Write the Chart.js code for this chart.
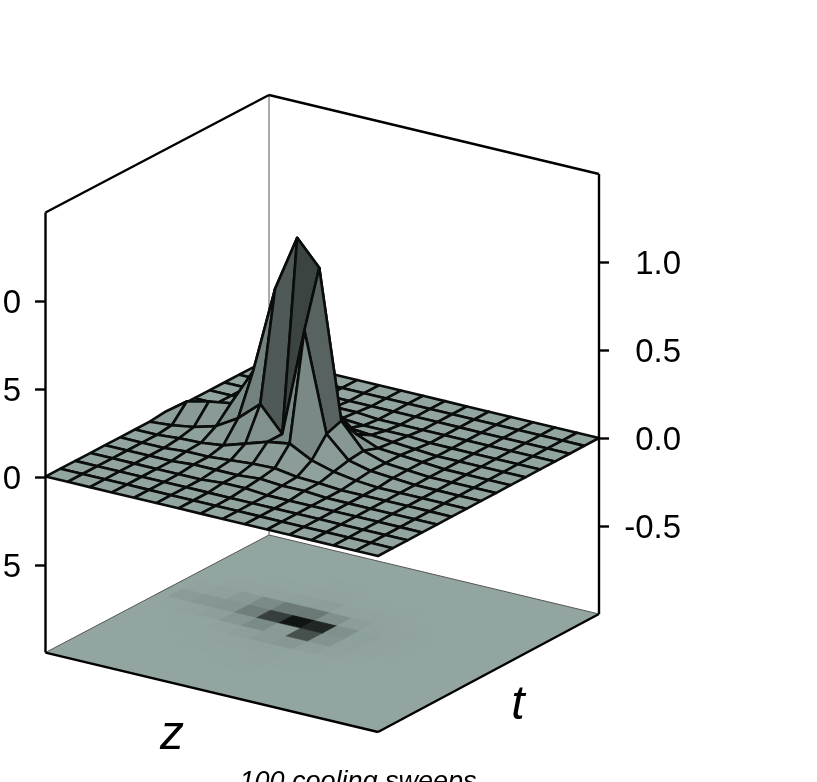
<!DOCTYPE html>
<html>
<head>
<meta charset="utf-8">
<style>
  body { margin: 0; background: #fff; overflow: hidden; }
  canvas { display: block; }
</style>
<script src="https://cdn.jsdelivr.net/npm/chart.js@4"></script>
</head>
<body>
<canvas id="myChart" width="817" height="782"></canvas>
<script>
// Surface heights, one row per t step (front to back), one value per z step
const heights = [
  [0,    0,    0,    0,    0,    0,    0,    0,    0,    0,    0,    0,    0,    0, 0, 0],
  [0,    0,    0,    0,    0,    0,    0,    0,    0,    0,    0,    0,    0,    0, 0, 0],
  [0,    0,    0,    0,    0,    0,    0,    0,    0,    0,    0,    0,    0,    0, 0, 0],
  [0,    0,    0,    0,    0,    0,    0.01, 0.01, 0,    0,    0,    0,    0,    0, 0, 0],
  [0,    0,    0,    0,    0.01, 0.01, 0.01, 0.02, 0.01, 0.01, 0,    0,    0,    0, 0, 0],
  [0,    0,    0,    0.01, 0.01, 0.02, 0.03, 0.035,0.015,0.01, 0,    0,    0,    0, 0, 0],
  [0,    0,    0.01, 0.015,0.03, 0.07, 0.11, 0.13, 0.065,0.03, 0.01, 0,    0,    0, 0, 0],
  [0,    0.01, 0.03, 0.065,0.14, 0.25, 0.11, 0.73, 0.17, 0.05, 0.02, 0.01, 0,    0, 0, 0],
  [0.01, 0.10, 0.13, 0.15, 0.36, 0.86, 1.18, 1.04, 0.20, 0.06, 0.02, 0.01, 0,    0, 0, 0],
  [0,    0.02, 0.05, 0.12, 0.25, 0.38, 0.40, 0.20, 0.08, 0.03, 0.02, 0.01, 0,    0, 0, 0],
  [0,    0,    0.02, 0.03, 0.04, 0.06, 0.08, 0.04, 0.03, 0.02, 0.01, 0,    0,    0, 0, 0],
  [0,    0,    0,    0.01, 0.01, 0.02, 0.02, 0.01, 0.01, 0.01, 0,    0,    0,    0, 0, 0],
  [0,    0,    0,    0,    0,    0.01, 0.01, 0,    0,    0,    0,    0,    0,    0, 0, 0],
  [0,    0,    0,    0,    0,    0,    0,    0,    0,    0,    0,    0,    0,    0, 0, 0],
  [0,    0,    0,    0,    0,    0,    0,    0,    0,    0,    0,    0,    0,    0, 0, 0],
  [0,    0,    0,    0,    0,    0,    0,    0,    0,    0,    0,    0,    0,    0, 0, 0]
];
const tickValues = [1.0, 0.5, 0.0, -0.5];
const floorLevel = -1.0;
const ceilingLevel = 1.5;
const zLabel = 'z';
const tLabel = 't';
const caption = '100 cooling sweeps';

// Shades of the steep faces round the peak: "z,t": fraction of base
const peakShades = { '5,7': 0.54, '6,7': 0.41, '7,7': 0.60, '7,6': 0.83, '4,7': 0.79, '6,6': 0.84, '5,6': 0.88, '8,7': 0.92 };

const baseColor = [147, 165, 161];
const darkColor = [16, 20, 19];
const lineColor = '#0a0d0c';

// Oblique view: corners of the z-t square (horizontal in x-scale units, depth in right axis units)
const cornerX = { left: 45.5, front: 378, right: 599, back: 269 };
const cornerDepth = { left: -0.219, front: -0.6705, right: 0, back: 0.449 };
const steps = heights.length - 1;

function project(zi, ti, level) {
  const u = zi / steps, v = ti / steps;
  const mix = c => c.left * (1 - u) * (1 - v) + c.front * u * (1 - v) + c.right * u * v + c.back * (1 - u) * v;
  return { x: mix(cornerX), y: mix(cornerDepth) + level };
}

function rgb(c) {
  return `rgb(${c.map(Math.round).join(',')})`;
}

function faceColor(zi, ti) {
  const key = zi + ',' + ti;
  const a = heights[ti][zi], b = heights[ti][zi + 1], c = heights[ti + 1][zi + 1], d = heights[ti + 1][zi];
  const slopeZ = (b + c - a - d) / 2, slopeT = (c + d - a - b) / 2;
  const shade = key in peakShades ? peakShades[key] : Math.max(0.4, 1 - 0.55 * Math.abs(slopeT) - 0.3 * Math.abs(slopeZ));
  return rgb(baseColor.map(v => v * shade));
}

function polygon(points, fillColor, border, width) {
  return {
    data: points.concat([points[0]]),
    showLine: true,
    fill: fillColor ? 'shape' : false,
    backgroundColor: fillColor || 'transparent',
    borderColor: border || 'transparent',
    borderWidth: width || 0,
    borderJoinStyle: 'round',
    pointRadius: 0,
    pointHoverRadius: 0,
    clip: false,
    xAxisID: 'x',
    yAxisID: 'yRight'
  };
}

function line(from, to, width, color) {
  const d = polygon([from, to], null, color, width);
  d.data = [from, to];
  return d;
}

// Everything goes in painter's order, back to front, and is flipped at the end
const painted = [];

// Back walls
const floorBack = project(0, steps, floorLevel);
painted.push(line(floorBack, project(0, steps, ceilingLevel), 1, '#555'));
painted.push(line(project(0, 0, ceilingLevel), project(0, steps, ceilingLevel), 2.4, '#000'));
painted.push(line(project(0, steps, ceilingLevel), project(steps, steps, ceilingLevel), 2.4, '#000'));

// Floor with the projected height map, one cell round each grid point
painted.push(polygon([project(0, 0, floorLevel), project(steps, 0, floorLevel), project(steps, steps, floorLevel), project(0, steps, floorLevel)], rgb(baseColor)));
const peak = Math.max(...heights.flat());
heights.forEach((row, ti) => row.forEach((h, zi) => {
  if (h <= 0) return;
  const t = Math.pow(h / peak, 1.1);
  const color = rgb(baseColor.map((v, k) => v + (darkColor[k] - v) * t));
  const z0 = Math.max(zi - 0.5, 0), z1 = Math.min(zi + 0.5, steps);
  const t0 = Math.max(ti - 0.5, 0), t1 = Math.min(ti + 0.5, steps);
  painted.push(polygon([project(z0, t0, floorLevel), project(z1, t0, floorLevel), project(z1, t1, floorLevel), project(z0, t1, floorLevel)], color, color, 0.5));
}));
painted.push(line(project(0, 0, floorLevel), floorBack, 1, '#555'));
painted.push(line(floorBack, project(steps, steps, floorLevel), 1, '#555'));

// Surface, from the back corner towards the viewer
for (let ti = steps - 1; ti >= 0; ti--) {
  for (let zi = 0; zi < steps; zi++) {
    painted.push(polygon([
      project(zi, ti, heights[ti][zi]),
      project(zi + 1, ti, heights[ti][zi + 1]),
      project(zi + 1, ti + 1, heights[ti + 1][zi + 1]),
      project(zi, ti + 1, heights[ti + 1][zi])
    ], faceColor(zi, ti), lineColor, 2.6));
  }
}

// Front edges of the box
painted.push(line(project(0, 0, floorLevel), project(0, 0, ceilingLevel), 2.4, '#000'));
painted.push(line(project(steps, steps, floorLevel), project(steps, steps, ceilingLevel), 2.4, '#000'));
painted.push(line(project(0, 0, floorLevel), project(steps, 0, floorLevel), 2.4, '#000'));
painted.push(line(project(steps, 0, floorLevel), project(steps, steps, floorLevel), 2.4, '#000'));

const axisFont = { family: '"Liberation Sans"', size: 33 };

function tickAxis(position, width, min, max, crossAlign) {
  return {
    type: 'linear',
    position: position,
    min: min,
    max: max,
    afterFit: s => { s.width = width; s.paddingTop = 0; s.paddingBottom = 0; },
    afterBuildTicks: s => { s.ticks = tickValues.map(v => ({ value: v })); },
    border: { display: false },
    grid: { drawOnChartArea: false, drawTicks: true, tickLength: 10, tickColor: '#000', tickWidth: 2.4 },
    ticks: { autoSkip: false, padding: 14, labelOffset: 3, color: '#000', font: axisFont, crossAlign: crossAlign, callback: v => v.toFixed(1) }
  };
}

// Axis titles and the caption, which is cut by the bottom of the page
const textLabels = {
  id: 'textLabels',
  afterDraw(chart) {
    const ctx = chart.ctx;
    ctx.save();
    ctx.fillStyle = '#000';
    ctx.textAlign = 'center';
    ctx.textBaseline = 'alphabetic';
    ctx.font = 'italic 48px "Liberation Sans"';
    ctx.fillText(zLabel, 172, 749);
    ctx.fillText(tLabel, 518, 719);
    ctx.font = 'italic 27px "Liberation Sans"';
    ctx.fillText(caption, 358, 790);
    ctx.restore();
  }
};

new Chart(document.getElementById('myChart').getContext('2d'), {
  type: 'scatter',
  data: { datasets: painted.reverse() },
  options: {
    responsive: false,
    animation: false,
    layout: { padding: { right: 136 } },
    plugins: { legend: { display: false }, tooltip: { enabled: false } },
    scales: {
      x: { type: 'linear', display: false, min: 45, max: 599 },
      yLeft: tickAxis('left', 45, (477 - 782) / 176, 477 / 176, 'near'),
      yRight: tickAxis('right', 82, (438 - 782) / 176, 438 / 176, 'far')
    }
  },
  plugins: [textLabels]
});
</script>
</body>
</html>
